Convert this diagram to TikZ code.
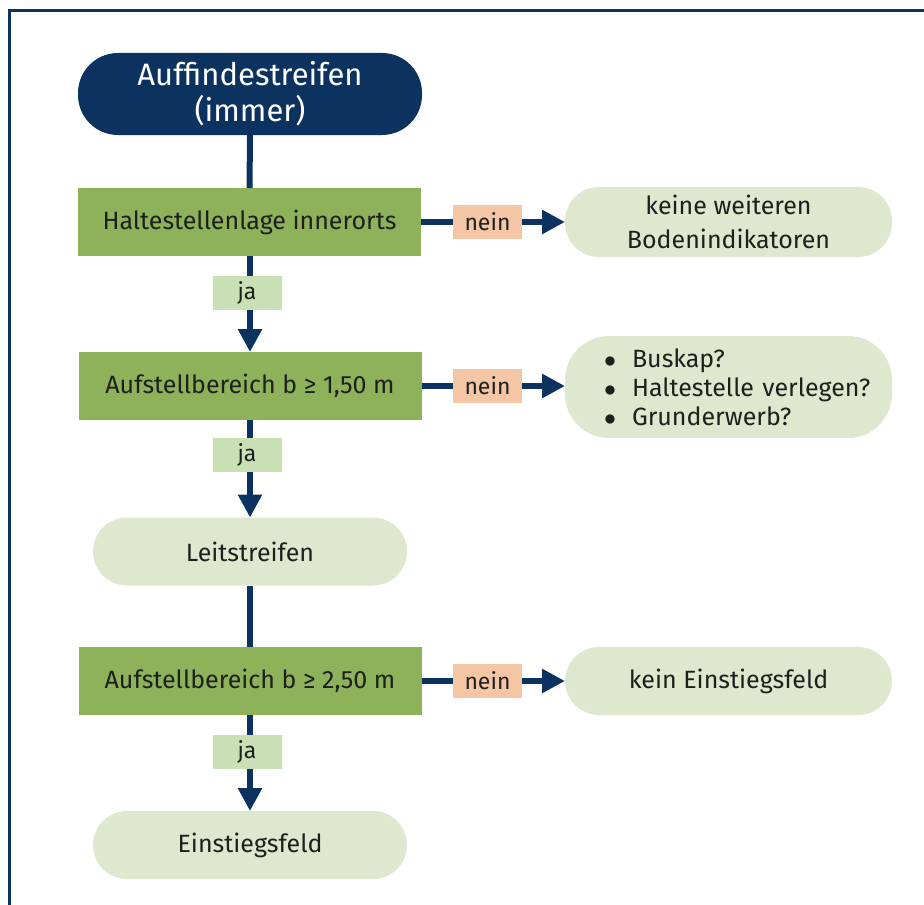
\documentclass[tikz,border=0pt]{standalone}
\usepackage{fontspec}
\setmainfont{Fira Sans}
\usetikzlibrary{arrows.meta}
\definecolor{navy}{RGB}{12,50,96}
\definecolor{boxgreen}{RGB}{141,178,89}
\definecolor{palegreen}{RGB}{222,232,206}
\definecolor{jagreen}{RGB}{200,224,180}
\definecolor{neinpeach}{RGB}{245,198,165}
\definecolor{txt}{RGB}{30,32,30}
\newcommand{\bulletitem}[1]{\hspace*{12.75pt}\makebox[14pt][l]{$\bullet$}#1}
\begin{document}
\begin{tikzpicture}[x=0.5pt,y=-0.5pt,
  every node/.style={inner sep=0pt, outer sep=0pt, text=txt, font=\fontsize{12.5}{15}\selectfont},
  startbox/.style={fill=navy, rounded corners=20pt, minimum width=172pt, minimum height=41pt, text=white, align=center, font=\fontsize{15.5}{18}\selectfont},
  decbox/.style={fill=boxgreen, minimum width=171.5pt, minimum height=34pt},
  resbox/.style={fill=palegreen, rounded corners=17pt, minimum height=34pt, align=center},
  jalabel/.style={fill=jagreen, minimum width=34.5pt, minimum height=17pt, font=\fontsize{11.5}{13}\selectfont},
  neinlabel/.style={fill=neinpeach, minimum width=34.5pt, minimum height=17pt, font=\fontsize{11.5}{13}\selectfont},
  conn/.style={draw=navy, line width=3pt},
  arr/.style={conn, -{Triangle[length=11.5pt,width=11.5pt]}}
]
\useasboundingbox (0,0) rectangle (924,904);
\draw[navy, line width=1.5pt] (9.5,910) -- (9.5,10.5) -- (930,10.5);

\node[startbox] (start) at (250,94) {Auffindestreifen\\(immer)};
\node[decbox] (halte) at (249.5,222) {Haltestellenlage innerorts};
\node[decbox] (auf1) at (250,386) {Aufstellbereich b ≥ 1,50 m};
\node[resbox, minimum width=157pt] (leit) at (250,551.5) {Leitstreifen};
\node[decbox] (auf2) at (250,681) {Aufstellbereich b ≥ 2,50 m};
\node[resbox, minimum width=157pt] (einst) at (250,845) {Einstiegsfeld};

\node[jalabel] (ja1) at (247,293) {ja};
\node[jalabel] (ja2) at (247,455) {ja};
\node[jalabel] (ja3) at (247,751.5) {ja};

\node[neinlabel] (nein1) at (487.5,222) {nein};
\node[neinlabel] (nein2) at (487.5,386) {nein};
\node[neinlabel] (nein3) at (487.5,681) {nein};

\node[resbox, minimum width=163.5pt, minimum height=35pt, font=\fontsize{12.5}{17}\selectfont] (keine) at (728.5,222) {keine weiteren\\Bodenindikatoren};
\node[resbox, minimum width=163.5pt, minimum height=51pt, rounded corners=22pt, align=left,
      text width=150pt, inner xsep=6.75pt, font=\fontsize{12.5}{14.5}\selectfont] (bullets) at (728.5,387)
  {\bulletitem{Buskap?}\\\bulletitem{Haltestelle verlegen?}\\\bulletitem{Grunderwerb?}};
\node[resbox, minimum width=163.5pt] (keinE) at (728.5,681) {kein Einstiegsfeld};

% vertical connectors
\draw[conn] (start.south) -- (halte.north);
\draw[conn] (halte.south) -- (halte.south |- ja1.north);
\draw[arr] (auf1.north |- ja1.south) -- (auf1.north);
\draw[conn] (auf1.south) -- (auf1.south |- ja2.north);
\draw[arr] (leit.north |- ja2.south) -- (leit.north);
\draw[conn] (leit.south) -- (auf2.north);
\draw[conn] (auf2.south) -- (auf2.south |- ja3.north);
\draw[arr] (einst.north |- ja3.south) -- (einst.north);

% horizontal connectors
\draw[conn] (halte.east) -- (nein1.west);
\draw[arr] (nein1.east) -- (keine.west);
\draw[conn] (auf1.east) -- (nein2.west);
\draw[arr] (nein2.east) -- (bullets.west |- nein2.east);
\draw[conn] (auf2.east) -- (nein3.west);
\draw[arr] (nein3.east) -- (keinE.west |- nein3.east);
\end{tikzpicture}
\end{document}
